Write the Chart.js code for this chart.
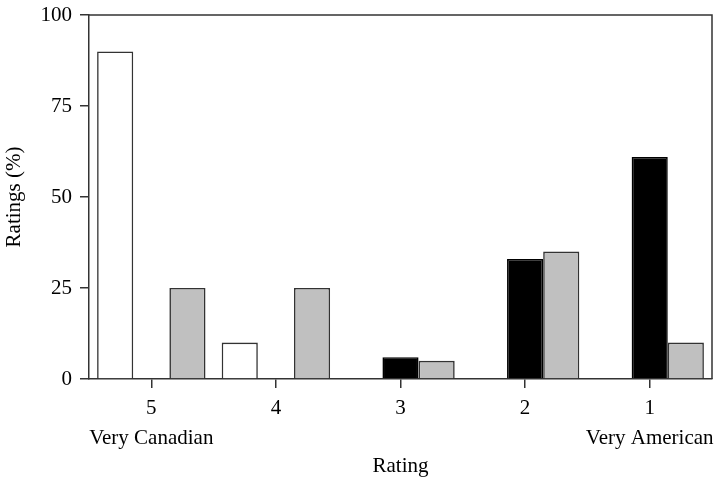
<!DOCTYPE html>
<html>
<head>
<meta charset="utf-8">
<script src="https://cdn.jsdelivr.net/npm/chart.js@4/dist/chart.umd.min.js"></script>
<style>
  html, body { margin: 0; padding: 0; background: #fff; }
  #wrap { width: 718px; height: 481px; }
</style>
</head>
<body>
<div id="wrap"><canvas id="c" width="718" height="481"></canvas></div>
<script>
// Rating categories, from "very Canadian" (5) to "very American" (1)
const categories = ['5', '4', '3', '2', '1'];
const categoryNotes = ['Very Canadian', '', '', '', 'Very American'];

// Percent of ratings per group
const whiteSeries = [90, 10, 0, 0, 0];
const blackSeries = [0, 0, 6, 33, 61];
const graySeries  = [25, 25, 5, 35, 10];

const yTicks = [0, 25, 50, 75, 100];

const axisColor = '#333';
const serif = "'Liberation Serif', 'DejaVu Serif', serif";

// Frame on the top and right sides of the plot
const framePlugin = {
  id: 'frame',
  afterDraw(chart) {
    const { ctx, chartArea: a } = chart;
    ctx.save();
    ctx.strokeStyle = axisColor;
    ctx.lineWidth = 1.5;
    ctx.beginPath();
    ctx.moveTo(a.left, a.top);
    ctx.lineTo(a.right, a.top);
    ctx.lineTo(a.right, a.bottom);
    ctx.stroke();
    ctx.restore();
  }
};

const labels = categories.map((c, i) => categoryNotes[i] ? [c, categoryNotes[i]] : c);

new Chart(document.getElementById('c'), {
  type: 'bar',
  data: {
    labels,
    datasets: [
      { data: whiteSeries, backgroundColor: '#ffffff', borderColor: axisColor, borderWidth: 1.6 },
      { data: blackSeries, backgroundColor: '#000000', borderColor: '#000', borderWidth: 1.6 },
      { data: graySeries,  backgroundColor: '#c0c0c0', borderColor: axisColor, borderWidth: 1.6 }
    ]
  },
  options: {
    responsive: false,
    animation: false,
    devicePixelRatio: 1,
    layout: { padding: { top: 15, right: 6, left: 0, bottom: 0 } },
    datasets: { bar: { categoryPercentage: 0.87, barPercentage: 1.0 } },
    plugins: {
      legend: { display: false },
      tooltip: { enabled: false }
    },
    scales: {
      x: {
        offset: true,
        afterFit(scale) {
          scale.height = 102;
          scale.paddingLeft = 0;
          scale.paddingRight = 0;
        },
        grid: { offset: false, drawOnChartArea: false, drawTicks: true, tickLength: 9, color: axisColor, lineWidth: 1.5 },
        border: { display: true, color: axisColor, width: 1.5 },
        ticks: { color: '#000', font: { family: serif, size: 21, lineHeight: 1.4 }, padding: 6, maxRotation: 0, autoSkip: false },
        title: { display: true, text: 'Rating', color: '#000', font: { family: serif, size: 21 }, padding: { top: 0, bottom: 2 } }
      },
      y: {
        min: 0,
        max: 100,
        afterBuildTicks(scale) { scale.ticks = yTicks.map(v => ({ value: v })); },
        afterFit(scale) {
          scale.width = 89;
          scale.paddingTop = 0;
          scale.paddingBottom = 0;
        },
        grid: { drawOnChartArea: false, drawTicks: true, tickLength: 9, color: axisColor, lineWidth: 1.5 },
        border: { display: true, color: axisColor, width: 1.5 },
        ticks: { color: '#000', font: { family: serif, size: 21 }, padding: 8 },
        title: { display: true, text: 'Ratings (%)', color: '#000', font: { family: serif, size: 21 }, padding: { top: 2, bottom: 0 } }
      }
    }
  },
  plugins: [framePlugin]
});
</script>
</body>
</html>
